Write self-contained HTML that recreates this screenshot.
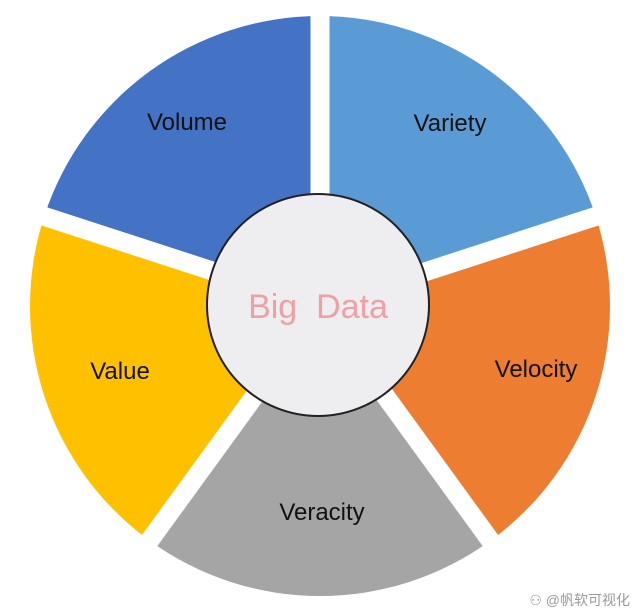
<!DOCTYPE html>
<html><head><meta charset="utf-8"><style>
html,body{margin:0;padding:0;background:#fff;}
svg{display:block;}
text{font-family:"Liberation Sans","DejaVu Sans",sans-serif;}
</style></head><body>
<svg width="640" height="614" viewBox="0 0 640 614" xmlns="http://www.w3.org/2000/svg">
<g transform="translate(320,306)">
<!-- wedges: angles measured clockwise from up -->
<path d="M0,0 L0,-290 A290,290 0 0 1 275.8,-89.6 Z" fill="#5B9BD5"/>
<path d="M0,0 L275.8,-89.6 A290,290 0 0 1 170.5,234.6 Z" fill="#ED7D31"/>
<path d="M0,0 L170.5,234.6 A290,290 0 0 1 -170.5,234.6 Z" fill="#A5A5A5"/>
<path d="M0,0 L-170.5,234.6 A290,290 0 0 1 -275.8,-89.6 Z" fill="#FFC000"/>
<path d="M0,0 L-275.8,-89.6 A290,290 0 0 1 0,-290 Z" fill="#4472C4"/>
<g stroke="#fff" stroke-width="19" stroke-linecap="butt">
<line x1="0" y1="0" x2="0" y2="-310"/>
<line x1="0" y1="0" x2="294.8" y2="-95.8"/>
<line x1="0" y1="0" x2="182.2" y2="250.8"/>
<line x1="0" y1="0" x2="-182.2" y2="250.8"/>
<line x1="0" y1="0" x2="-294.8" y2="-95.8"/>
</g>
<circle cx="-2" cy="-1" r="111" fill="#EEEEF0" stroke="#222" stroke-width="2"/>
</g>
<text x="318" y="318" font-size="34" fill="#EFA0A4" text-anchor="middle" xml:space="preserve">Big  Data</text>
<g font-size="24" fill="#111" text-anchor="middle">
<text x="187" y="130">Volume</text>
<text x="450" y="131">Variety</text>
<text x="536" y="377">Velocity</text>
<text x="322" y="520">Veracity</text>
<text x="120" y="379">Value</text>
</g>
<text x="630" y="605" font-size="14" fill="#999" text-anchor="end" font-family="'Liberation Sans','Noto Sans CJK SC',sans-serif">⚇ @帆软可视化</text>
</svg>
</body></html>
